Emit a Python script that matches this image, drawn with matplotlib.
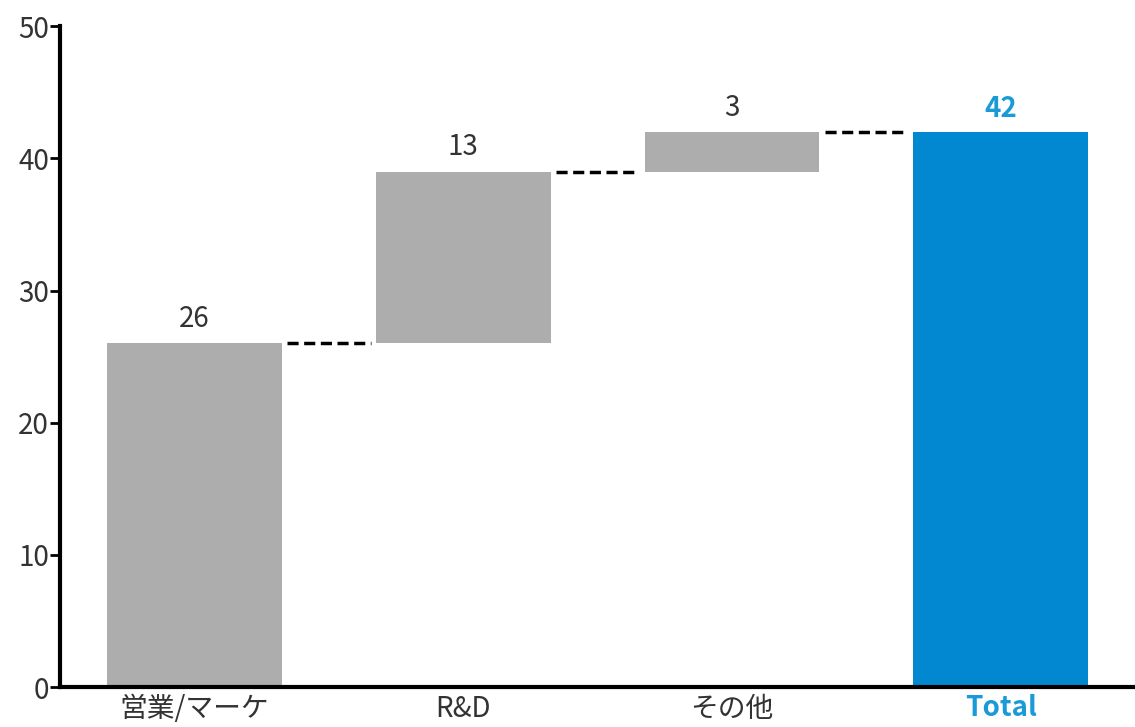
import matplotlib
matplotlib.use("Agg")
import matplotlib.pyplot as plt

plt.rcParams['font.family'] = ['Noto Sans CJK JP', 'DejaVu Sans']

categories = ["営業/マーケ", "R&D", "その他", "Total"]
steps = [26, 13, 3]
total = sum(steps)
y_ticks = [0, 10, 20, 30, 40, 50]

grey = "#adadad"
blue = "#0288d1"
label_blue = "#1b9ad8"
text_dark = "#333333"

fig = plt.figure(figsize=(11.35, 7.27), dpi=100)
ax = fig.add_axes([0.053, 0.055, 0.947, 0.909])

width = 0.65
bottoms = []
running = 0
for v in steps:
    bottoms.append(running)
    running += v

xs = list(range(len(categories)))
ax.bar(xs[:-1], steps, bottom=bottoms, width=width, color=grey, zorder=2)
ax.bar(xs[-1], total, width=width, color=blue, zorder=2)

# value labels
for x, b, v in zip(xs[:-1], bottoms, steps):
    ax.text(x, b + v + 0.7, f"{v}", ha="center", va="bottom",
            fontsize=20, color=text_dark)
ax.text(xs[-1], total + 0.7, f"{total}", ha="center", va="bottom",
        fontsize=20, color=label_blue, fontweight="bold")

# dashed connectors between consecutive bars
levels = [b + v for b, v in zip(bottoms, steps)]
gap = 0.02
for i, lvl in enumerate(levels):
    x0 = xs[i] + width / 2 + gap
    x1 = xs[i + 1] - width / 2 - gap
    ax.plot([x0, x1], [lvl, lvl], color="black", lw=2.5,
            linestyle=(0, (3.2, 1.6)), zorder=3)

ax.set_xlim(-0.5, 3.5)
ax.set_ylim(0, 50)
ax.set_yticks(y_ticks)
ax.set_xticks(xs)
ax.set_xticklabels(categories, fontsize=20, color=text_dark)
tl = ax.get_xticklabels()[-1]
tl.set_color(label_blue)
tl.set_fontweight("bold")

ax.tick_params(axis="y", labelsize=20, labelcolor=text_dark, length=7,
               width=2, direction="out", pad=1)
ax.tick_params(axis="x", length=0, pad=5)

for s in ["top", "right"]:
    ax.spines[s].set_visible(False)
for s in ["left", "bottom"]:
    ax.spines[s].set_linewidth(3)
    ax.spines[s].set_color("black")

fig.savefig("out.png", dpi=100)
